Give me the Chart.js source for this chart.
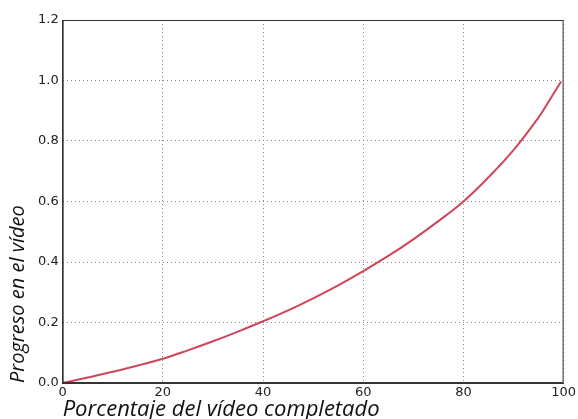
<!DOCTYPE html>
<html>
<head>
<meta charset="utf-8">
<script src="https://cdn.jsdelivr.net/npm/chart.js@4/dist/chart.umd.min.js"></script>
<style>
    html, body { margin: 0; padding: 0; background: #fff; }
    #wrap { width: 578px; height: 419px; }
</style>
</head>
<body>
<div id="wrap"><canvas id="progressChart"></canvas></div>
<script>
// porcentaje del video completado
const percentWatched = [0, 5, 10, 15, 20, 25, 30, 35, 40, 45, 50, 55, 60, 65, 70, 75, 80, 85, 90, 95, 97, 99.5];
// progreso en el video
const videoProgress = [0, 0.018, 0.037, 0.058, 0.08, 0.108, 0.138, 0.17, 0.204, 0.24, 0.28, 0.323, 0.37, 0.42, 0.475, 0.535, 0.6, 0.68, 0.77, 0.878, 0.93, 0.997];

const xTicks = [0, 20, 40, 60, 80, 100];
const yTicks = [0, 0.2, 0.4, 0.6, 0.8, 1.0, 1.2];

// box round the plot, like the original frame
const frameBox = {
    id: 'frameBox',
    afterDraw(chart) {
        const a = chart.chartArea;
        const ctx = chart.ctx;
        ctx.save();
        ctx.strokeStyle = '#333';
        ctx.lineWidth = 1;
        ctx.strokeRect(a.left + 0.5, a.top + 0.5, a.right - a.left - 1, a.bottom - a.top - 1);
        ctx.restore();
    }
};

window.addEventListener('DOMContentLoaded', function() {
    const tickFont = { family: 'DejaVu Sans', size: 13 };

    new Chart(document.getElementById('progressChart'), {
        type: 'line',
        data: {
            datasets: [{
                label: 'Progreso',
                data: percentWatched.map((x, i) => ({ x: x, y: videoProgress[i] })),
                borderColor: '#cf4559',
                borderWidth: 2,
                pointRadius: 0,
                tension: 0.4,
                fill: false
            }]
        },
        options: {
            responsive: true,
            maintainAspectRatio: false,
            animation: false,
            layout: { padding: { top: 20, left: 6, right: 2, bottom: 0 } },
            plugins: { legend: { display: false }, tooltip: { enabled: false } },
            scales: {
                x: {
                    type: 'linear',
                    min: 0,
                    max: 100,
                    afterBuildTicks: axis => { axis.ticks = xTicks.map(v => ({ value: v })); },
                    ticks: { font: tickFont, color: '#222', padding: 2 },
                    grid: { color: '#888', drawTicks: false },
                    border: { color: '#333', dash: [1, 3] },
                    title: { display: true, text: 'Porcentaje del vídeo completado', align: 'start', font: { family: 'Open Sans', size: 22, style: 'italic' }, color: '#111', padding: { top: -6, bottom: -4 } }
                },
                y: {
                    min: 0,
                    max: 1.2,
                    afterBuildTicks: axis => { axis.ticks = yTicks.map(v => ({ value: v })); },
                    ticks: { font: tickFont, color: '#222', padding: 4, callback: v => v.toFixed(1) },
                    grid: { color: '#888', drawTicks: false },
                    border: { color: '#333', dash: [1, 3] },
                    title: { display: true, text: 'Progreso en el vídeo', align: 'start', font: { family: 'Open Sans', size: 20, style: 'italic' }, color: '#111', padding: { top: 0, bottom: 4 } }
                }
            }
        },
        plugins: [frameBox]
    });
});
</script>
</body>
</html>
